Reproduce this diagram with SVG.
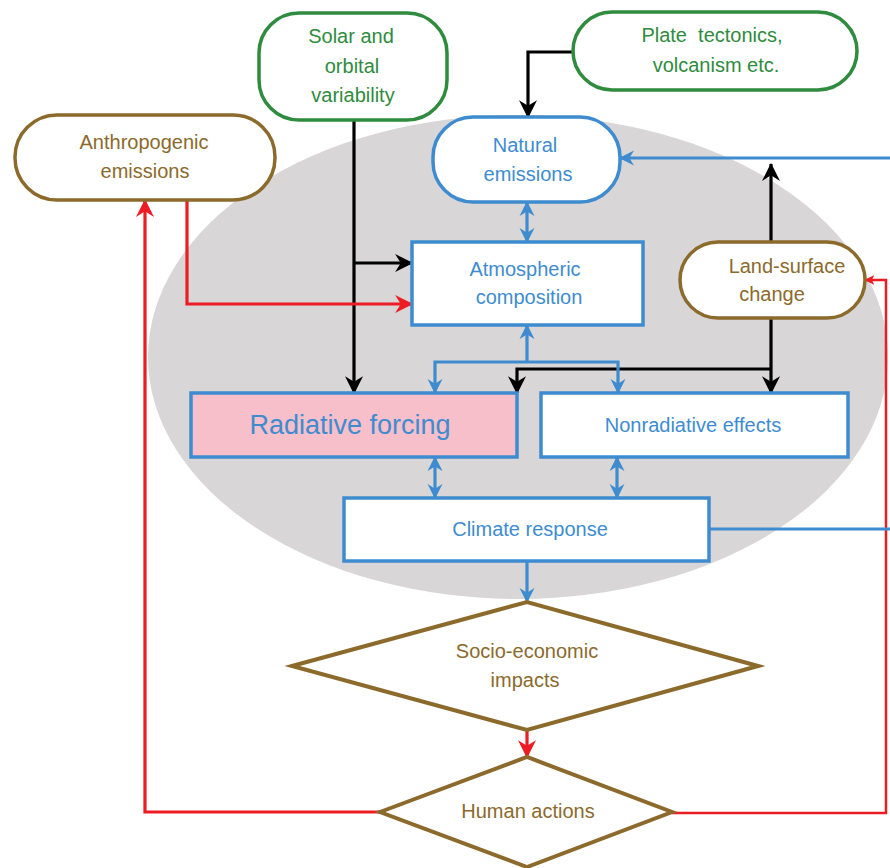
<svg xmlns="http://www.w3.org/2000/svg" width="890" height="868" viewBox="0 0 890 868">
<style>
.t{font-family:"Liberation Sans",Arial,sans-serif;text-anchor:middle;font-size:20px}
.tg{fill:#2f8b3e}.tb{fill:#3e8ccf}.tbr{fill:#8b6a2c}
.ng{fill:#fff;stroke:#2f8b3e;stroke-width:3.5}
.nb{fill:#fff;stroke:#3e8ccf;stroke-width:3.5}
.nbr{fill:#fff;stroke:#8b6a2c;stroke-width:3.5}
.k{fill:none;stroke:#000;stroke-width:3.2}
.r{fill:none;stroke:#ec1c24;stroke-width:3.2}
.bl{fill:none;stroke:#3e8ccf;stroke-width:3.2}
</style>
<defs>
<marker id="ak" markerUnits="userSpaceOnUse" viewBox="0 0 16 16" markerWidth="19" markerHeight="18" refX="15" refY="8" orient="auto"><path d="M0,0 L16,8 L0,16 L5,8 z" fill="#000"/></marker>
<marker id="ar" markerUnits="userSpaceOnUse" viewBox="0 0 16 16" markerWidth="19" markerHeight="18" refX="15" refY="8" orient="auto"><path d="M0,0 L16,8 L0,16 L5,8 z" fill="#ec1c24"/></marker>
<marker id="ars" markerUnits="userSpaceOnUse" viewBox="0 0 16 16" markerWidth="10" markerHeight="10" refX="15" refY="8" orient="auto"><path d="M0,0 L16,8 L0,16 L4,8 z" fill="#ec1c24"/></marker>
<marker id="ab" markerUnits="userSpaceOnUse" viewBox="0 0 16 16" markerWidth="15" markerHeight="17" refX="15" refY="8" orient="auto-start-reverse"><path d="M0,0 L16,8 L0,16 L5,8 z" fill="#3e8ccf"/></marker>
</defs>
<ellipse cx="518" cy="357" rx="370" ry="242" fill="#d8d6d7"/>
<g id="connectors">
<path class="k" d="M354,120 V393" marker-end="url(#ak)"/>
<path class="k" d="M354,263 H412" marker-end="url(#ak)"/>
<path class="k" d="M573,52 H528 V117" marker-end="url(#ak)"/>
<path class="k" d="M771,242 V164" marker-end="url(#ak)"/>
<path class="k" d="M771,318 V393" marker-end="url(#ak)"/>
<path class="k" d="M771,369 H517 V393" marker-end="url(#ak)"/>
<path class="r" d="M187,200 V304 H412" marker-end="url(#ar)"/>
<path class="r" d="M380,812 H145 V200" marker-end="url(#ar)"/>
<path class="r" d="M527,730 V757" marker-end="url(#ar)"/>
<path class="r" style="stroke-width:2.5" d="M672,813 H886 V280 H865" marker-end="url(#ars)"/>
<path class="bl" d="M527,202 V242" marker-start="url(#ab)" marker-end="url(#ab)"/>
<path class="bl" d="M527,362 V325" marker-end="url(#ab)"/>
<path class="bl" d="M435,393 V362 H618 V393" marker-start="url(#ab)" marker-end="url(#ab)"/>
<path class="bl" d="M435,457 V498" marker-start="url(#ab)" marker-end="url(#ab)"/>
<path class="bl" d="M617,457 V498" marker-start="url(#ab)" marker-end="url(#ab)"/>
<path class="bl" d="M527,561 V602" marker-end="url(#ab)"/>
<path class="bl" d="M709,529 H896 V158 H620" marker-end="url(#ab)"/>
</g>
<g id="solar">
<rect class="ng" x="259" y="13" width="188" height="107" rx="40"/>
<text class="t tg" x="351" y="43">Solar and</text>
<text class="t tg" x="352" y="73">orbital</text>
<text class="t tg" x="353" y="102">variability</text>
</g>
<g id="plate">
<rect class="ng" x="573" y="12" width="284" height="78" rx="39"/>
<text class="t tg" x="712" y="42">Plate&#160; tectonics,</text>
<text class="t tg" x="716" y="72">volcanism etc.</text>
</g>
<g id="anthropogenic">
<rect class="nbr" x="15" y="115" width="260" height="85" rx="42"/>
<text class="t tbr" x="144" y="149">Anthropogenic</text>
<text class="t tbr" x="145" y="178">emissions</text>
</g>
<g id="natural">
<rect class="nb" x="433" y="117" width="187" height="85" rx="40"/>
<text class="t tb" x="525" y="152">Natural</text>
<text class="t tb" x="528" y="181">emissions</text>
</g>
<g id="atmospheric">
<rect class="nb" x="412" y="242" width="231" height="83"/>
<text class="t tb" x="525" y="276">Atmospheric</text>
<text class="t tb" x="529" y="304">composition</text>
</g>
<g id="landsurface">
<rect class="nbr" x="680" y="242" width="185" height="76" rx="38"/>
<text class="t tbr" x="787" y="273">Land-surface</text>
<text class="t tbr" x="772" y="301">change</text>
</g>
<g id="radiative">
<rect class="nb" x="191" y="393" width="326" height="64" style="fill:#f7bfca"/>
<text class="t tb" x="350" y="434" style="font-size:27px">Radiative forcing</text>
</g>
<g id="nonradiative">
<rect class="nb" x="541" y="393" width="307" height="64"/>
<text class="t tb" x="693" y="432">Nonradiative effects</text>
</g>
<g id="climate">
<rect class="nb" x="344" y="498" width="365" height="63"/>
<text class="t tb" x="530" y="536">Climate response</text>
</g>
<g id="socioeconomic">
<polygon class="nbr" points="292,666 527,602 758,666 527,730" style="stroke-width:4"/>
<text class="t tbr" x="527" y="658">Socio-economic</text>
<text class="t tbr" x="525" y="687">impacts</text>
</g>
<g id="human">
<polygon class="nbr" points="380,812 527,757 672,812 527,867" style="stroke-width:4"/>
<text class="t tbr" x="528" y="818">Human actions</text>
</g>
</svg>
